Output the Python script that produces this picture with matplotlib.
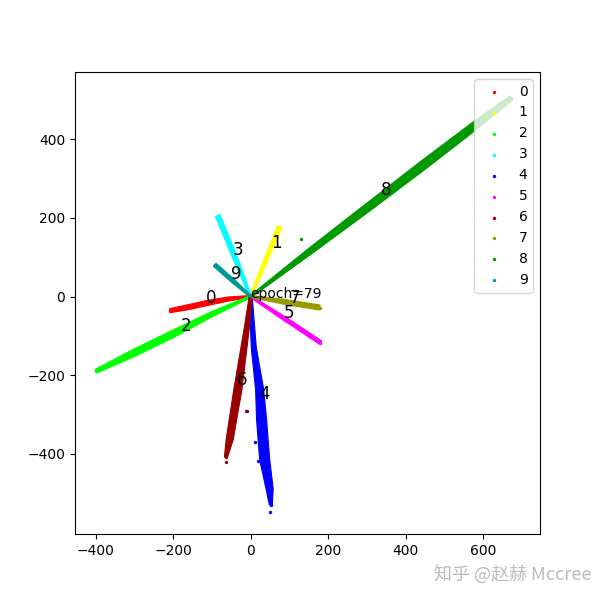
import matplotlib
matplotlib.use('Agg')
import matplotlib.pyplot as plt
import numpy as np

# 每一类特征点（沿着条带读出来的点），单位为特征坐标
classes = ['0', '1', '2', '3', '4', '5', '6', '7', '8', '9']
colors = ['#ff0000', '#ffff00', '#00ff00', '#00ffff', '#0000ff',
          '#ff00ff', '#990000', '#999900', '#009900', '#009999']

feat_x = [
    [0, -55, -105, -160, -208],
    [0, 38, 75],
    [0, -100, -200, -300, -399],
    [0, -42, -85],
    [0, 8, 23, 28, 36, 49, 52],
    [0, 90, 180],
    [0, -10, -33, -54, -64],
    [0, 90, 178],
    [0, 150, 300, 450, 580, 672],
    [0, -46, -93],
]
feat_y = [
    [0, -6, -15, -27, -36],
    [0, 90, 178],
    [0, -45, -95, -143, -190],
    [0, 103, 206],
    [0, -130, -236, -312, -414, -490, -530],
    [0, -58, -117],
    [0, -80, -236, -363, -409],
    [0, -14, -28],
    [0, 113, 225, 338, 436, 505],
    [0, 40, 81],
]

# 离群点
stray_x = [[], [], [], [], [10, 18, 51, -10, -21], [], [-64, -13], [], [129], []]
stray_y = [[], [], [], [], [-371, -419, -548, -292, -185], [], [-421, -292], [], [147], []]

# 类别中心（标注数字的位置）
center_x = [-103, 67, -167, -33, 36, 98, -23, 113, 350, -36]
center_y = [-3, 137, -74, 119, -249, -41, -213, -3, 272, 56]

epoch = 79

# 条带宽度（像素），对应每个读出的点
band_widths = {
    0: [2, 4, 5, 5, 4],
    1: [2, 4, 5],
    2: [2, 5, 7, 7, 4],
    3: [2, 5, 5],
    4: [3, 5, 8, 10, 10, 7, 3],
    5: [2, 4, 4],
    6: [3, 5, 8, 7, 3],
    7: [2, 5, 5],
    8: [2, 6, 8, 9, 8, 5],
    9: [2, 4, 4],
}


def draw_band(ax, xs, ys, widths, color):
    # 在像素坐标里沿着点列向两侧扩出宽度，再画成一个填充多边形
    pts = ax.transData.transform(np.column_stack([xs, ys]))
    n = len(pts)
    normals = np.zeros((n, 2))
    for k in range(n):
        if k == 0:
            d = pts[1] - pts[0]
        elif k == n - 1:
            d = pts[-1] - pts[-2]
        else:
            d = pts[k + 1] - pts[k - 1]
        d = d / np.hypot(d[0], d[1])
        normals[k] = [-d[1], d[0]]
    hw = np.array(widths, dtype=float)[:, None] / 2
    poly = np.vstack([pts + normals * hw, (pts - normals * hw)[::-1]])
    poly = ax.transData.inverted().transform(poly)
    ax.fill(poly[:, 0], poly[:, 1], color=color, lw=0.8, ec=color)


fig = plt.figure(figsize=(6, 6), dpi=100)
ax = fig.add_subplot(111)
ax.set_xlim(-453, 746)
ax.set_ylim(-604, 571)

for i in range(10):
    xs = feat_x[i]
    ys = feat_y[i]
    draw_band(ax, xs, ys, band_widths[i], colors[i])
    ax.scatter(stray_x[i] + [xs[-1]], stray_y[i] + [ys[-1]], s=2,
               color=colors[i], label=classes[i])

for i in range(10):
    ax.text(center_x[i], center_y[i], classes[i], fontsize=12,
            ha='center', va='center')

ax.text(0, -5, 'epoch=%d' % epoch, fontsize=10)

ax.set_xticks([-400, -200, 0, 200, 400, 600])
ax.set_yticks([-400, -200, 0, 200, 400])
ax.legend(loc='upper right')

fig.text(0.985, 0.042, '知乎 @赵赫 Mccree', ha='right', va='center',
         color='#bbbbbb', fontsize=13,
         family=['Noto Sans CJK SC', 'DejaVu Sans'])

fig.savefig('out.png')
